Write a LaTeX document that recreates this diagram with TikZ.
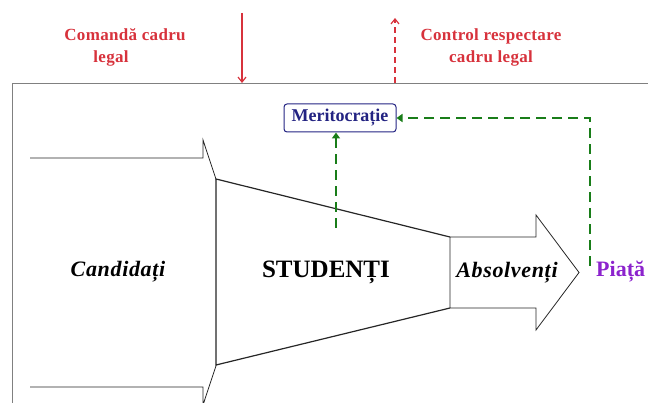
\documentclass[tikz,border=0pt]{standalone}
\usepackage{fontspec}
\setmainfont{Liberation Serif}
\usepackage{xcolor}
\usetikzlibrary{positioning, arrows.meta}
\definecolor{rosu}{RGB}{215,50,60}
\definecolor{verde}{RGB}{25,125,25}
\definecolor{albastru}{RGB}{35,35,130}
\definecolor{mov}{RGB}{140,35,205}

\begin{document}
\begin{tikzpicture}[x=1pt, y=-1pt,
    redtext/.style={text=rosu, align=center, font=\fontsize{17}{22}\selectfont\bfseries\addfontfeature{LetterSpace=2}},
    flowtext/.style={font=\fontsize{22}{26}\selectfont\bfseries\itshape\addfontfeature{LetterSpace=3}},
    redarrow/.style={rosu, line width=1.2pt, -{Straight Barb[length=5pt,width=8pt]}},
    greenarrow/.style={verde, line width=1.5pt, dash pattern=on 10pt off 6pt, -{Triangle[length=6pt,width=8pt]}}
  ]
  \useasboundingbox (0,0) rectangle (648,403);
  % cadrul
  \draw[gray, line width=0.8pt] (12,410) -- (12,83) -- (660,83);
  % sageata candidati
  \draw[black!85, line width=0.8pt] (30,158) -- (203,158) -- (203,140) -- (247,272.5)
    -- (203,405) -- (203,387) -- (30,387);
  % trapezul
  \fill[white] (216,179) -- (450,237) -- (450,308) -- (216,365) -- cycle;
  \draw[black!85, line width=1.2pt] (450,237) -- (216,179) -- (216,365) -- (450,308);
  % sageata absolventi
  \draw[black!85, line width=0.8pt] (450,237) -- (536,237) -- (536,215) -- (579,272.5)
    -- (536,330) -- (536,308) -- (450,308) -- cycle;

  \node[flowtext] (cand) at (118,272) {Candidați};
  \node[font=\fontsize{25}{30}\selectfont\bfseries] (stud) at (326,272) {STUDENȚI};
  \node[flowtext] (absolv) at (507,273) {Absolvenți};
  \node[anchor=west, text=mov, font=\fontsize{22}{26}\selectfont\bfseries, inner sep=0pt] (piata) at (596,272) {Piață};
  \node[draw=albastru, text=albastru, line width=1pt, rounded corners=3pt,
    minimum width=112pt, minimum height=28pt, inner sep=2pt,
    font=\fontsize{18}{21}\selectfont\bfseries] (merit) at (340,118) {Meritocrație};

  % legaturi verzi
  \coordinate (studtop) at (336,228);
  \coordinate (piatatop) at (590,266);
  \draw[greenarrow] (studtop) -- (studtop |- merit.south);
  \draw[greenarrow] (piatatop) |- (merit.east);

  % partea de sus
  \node[redtext] (comanda) at (125,47) {Comandă cadru\\legal\hspace*{28pt}};
  \node[redtext] (control) at (491,47) {Control respectare\\cadru legal};
  \coordinate (cmdsus) at (242,13);
  \coordinate (cmdjos) at (242,83);
  \coordinate (ctrljos) at (395,83);
  \coordinate (ctrlsus) at (395,18);
  \draw[redarrow] (cmdsus) -- (cmdjos);
  \draw[redarrow, dash pattern=on 6pt off 4pt] (ctrljos) -- (ctrlsus);
\end{tikzpicture}
\end{document}
